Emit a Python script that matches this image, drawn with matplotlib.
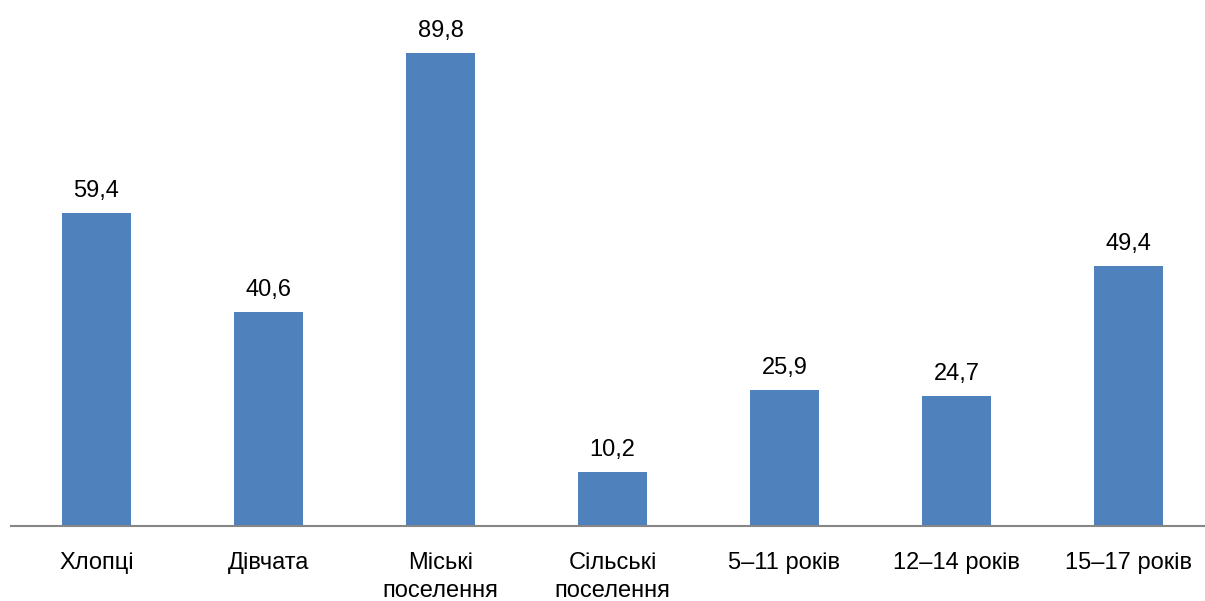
import matplotlib
matplotlib.use("agg")
import matplotlib.pyplot as plt

categories = ['Хлопці', 'Дівчата', 'Міські\nпоселення', 'Сільські\nпоселення',
              '5–11 років', '12–14 років', '15–17 років']
values = [59.4, 40.6, 89.8, 10.2, 25.9, 24.7, 49.4]
labels = ['59,4', '40,6', '89,8', '10,2', '25,9', '24,7', '49,4']

plt.rcParams['font.family'] = ['Liberation Sans', 'DejaVu Sans']

fig = plt.figure(figsize=(12.05, 6.01), dpi=100)
# axes spans a bit past the right edge, like the source image
ax = fig.add_axes([10.5 / 1205, 75 / 601, 1204 / 1205, 526 / 601])

x = range(len(categories))
ax.bar(x, values, width=0.4, color='#4F81BD')
for i, v in enumerate(values):
    ax.text(i, v + 3.05, labels[i], ha='center', va='baseline', fontsize=17)

ax.set_xlim(-0.5, len(categories) - 0.5)
ax.set_ylim(0, 526 / 5.267)
ax.set_xticks(list(x))
ax.set_xticklabels(categories, fontsize=17, linespacing=1.35)
ax.tick_params(axis='x', length=0, pad=19)
ax.set_yticks([])
for s in ['top', 'right', 'left']:
    ax.spines[s].set_visible(False)
ax.spines['bottom'].set_color('#868686')
ax.spines['bottom'].set_linewidth(1.5)

plt.savefig('out.png', dpi=100)
plt.close()
